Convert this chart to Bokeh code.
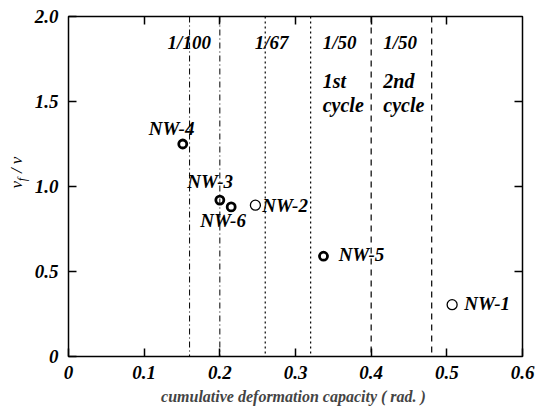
import math
from bokeh.plotting import figure
from bokeh.layouts import row
from bokeh.models import LinearAxis, FixedTicker, Span
from bokeh.core.properties import value
from bokeh.embed import file_html
from bokeh.resources import INLINE

# ---- data ----
specimens = ["NW-1", "NW-2", "NW-3", "NW-4", "NW-5", "NW-6"]
capacity = [0.507, 0.247, 0.200, 0.151, 0.337, 0.215]
ratio = [0.305, 0.89, 0.92, 1.25, 0.59, 0.88]
filled = [False, False, True, True, True, True]

label_x = [0.523, 0.256, 0.157, 0.106, 0.357, 0.174]
label_y = [0.31, 0.89, 1.03, 1.34, 0.60, 0.80]

dash_dot_lines = [0.16, 0.20]
dotted_lines = [0.26, 0.32]
dashed_lines = [0.40, 0.48]

drift_labels = ["1/100", "1/67", "1/50", "1/50"]
drift_label_x = [0.131, 0.246, 0.336, 0.416]
cycle_labels = ["1st", "cycle", "2nd", "cycle"]
cycle_label_x = [0.336, 0.336, 0.416, 0.416]
cycle_label_y = [1.62, 1.48, 1.62, 1.48]

x_ticks = [0, 0.1, 0.2, 0.3, 0.4, 0.5, 0.6]
x_tick_labels = ["0", "0.1", "0.2", "0.3", "0.4", "0.5", "0.6"]
y_ticks = [0, 0.5, 1.0, 1.5, 2.0]
y_tick_labels = ["0", "0.5", "1.0", "1.5", "2.0"]

FONT = "Liberation Serif"

p = figure(width=506, height=419, x_range=(0, 0.6), y_range=(0, 2.0),
           output_backend="svg", toolbar_location=None,
           min_border_left=38, min_border_right=14, min_border_top=16,
           min_border_bottom=63)
p.grid.visible = False
p.background_fill_color = "white"
p.border_fill_color = "white"
p.outline_line_color = "black"
p.outline_line_width = 1.5

def style_axis(ax, ticks, labels, show_labels=True):
    ax.ticker = FixedTicker(ticks=ticks)
    ax.major_tick_in = 8
    ax.major_tick_out = 0
    ax.minor_tick_line_color = None
    ax.major_tick_line_width = 1.5
    ax.axis_line_color = None
    ax.major_label_text_font = FONT
    ax.major_label_text_font_style = "bold italic"
    ax.major_label_text_color = "black"
    if show_labels:
        ax.major_label_overrides = {t: l for t, l in zip(ticks, labels)}
        ax.major_label_text_font_size = "19px"
    else:
        ax.major_label_overrides = {t: "" for t in ticks}
        ax.major_label_text_font_size = "1px"
        ax.major_label_standoff = 0

style_axis(p.xaxis[0], x_ticks, x_tick_labels)
style_axis(p.yaxis[0], y_ticks, y_tick_labels)
p.xaxis[0].major_label_standoff = 9
p.yaxis[0].major_label_standoff = 10
p.xaxis[0].axis_label = "cumulative deformation capacity  ( rad. )"
p.xaxis[0].axis_label_text_font = FONT
p.xaxis[0].axis_label_text_font_style = "bold italic"
p.xaxis[0].axis_label_text_font_size = "16px"
p.xaxis[0].axis_label_standoff = 6

top = LinearAxis()
style_axis(top, x_ticks[1:-1], None, show_labels=False)
p.add_layout(top, "above")
right = LinearAxis()
style_axis(right, y_ticks[1:-1], None, show_labels=False)
p.add_layout(right, "right")

# vertical reference lines
for xv in dash_dot_lines:
    p.add_layout(Span(location=xv, dimension="height", line_color="black",
                      line_width=1, line_dash="6 3 1 3"))
for xv in dotted_lines:
    p.add_layout(Span(location=xv, dimension="height", line_color="black",
                      line_width=1.2, line_dash="2 3"))
for xv in dashed_lines:
    p.add_layout(Span(location=xv, dimension="height", line_color="black",
                      line_width=1.2, line_dash="6 5"))

# points
fx = [x for x, f in zip(capacity, filled) if f]
fy = [y for y, f in zip(ratio, filled) if f]
ox = [x for x, f in zip(capacity, filled) if not f]
oy = [y for y, f in zip(ratio, filled) if not f]
p.scatter(fx, fy, size=8, fill_color="white", line_color="black", line_width=2.8)
p.scatter(ox, oy, size=10, fill_color="white", line_color="black", line_width=1.3)

text_kw = dict(text_font=value(FONT), text_font_style="bold italic",
               text_color="black", text_align="left", text_baseline="middle")
p.text(x=label_x, y=label_y, text=specimens, text_font_size=value("19px"), **text_kw)
p.text(x=drift_label_x, y=[1.85] * 4, text=drift_labels, text_font_size=value("19px"), **text_kw)
p.text(x=cycle_label_x, y=cycle_label_y, text=cycle_labels, text_font_size=value("20px"), **text_kw)

# y-axis label  v_f / v, drawn in a narrow strip figure (pixel coordinates)
lab = figure(width=30, height=419, x_range=(0, 30), y_range=(0, 419),
             output_backend="svg", toolbar_location=None,
             x_axis_location=None, y_axis_location=None,
             min_border=0)
lab.grid.visible = False
lab.outline_line_color = None
lab.background_fill_color = "white"
lab.border_fill_color = "white"
ylab_kw = dict(text_font=value(FONT), text_font_style="italic", text_color="black",
               angle=math.pi / 2, text_align="left", text_baseline="middle")
lab.text(x=[16], y=[207], text=["v"], text_font_size=value("17px"), **ylab_kw)
lab.text(x=[21], y=[216], text=["f"], text_font_size=value("12px"), **ylab_kw)
lab.text(x=[16], y=[226], text=["/ v"], text_font_size=value("17px"), **ylab_kw)

layout = row(lab, p, spacing=0)
open("out.html", "w").write(file_html(layout, INLINE))
